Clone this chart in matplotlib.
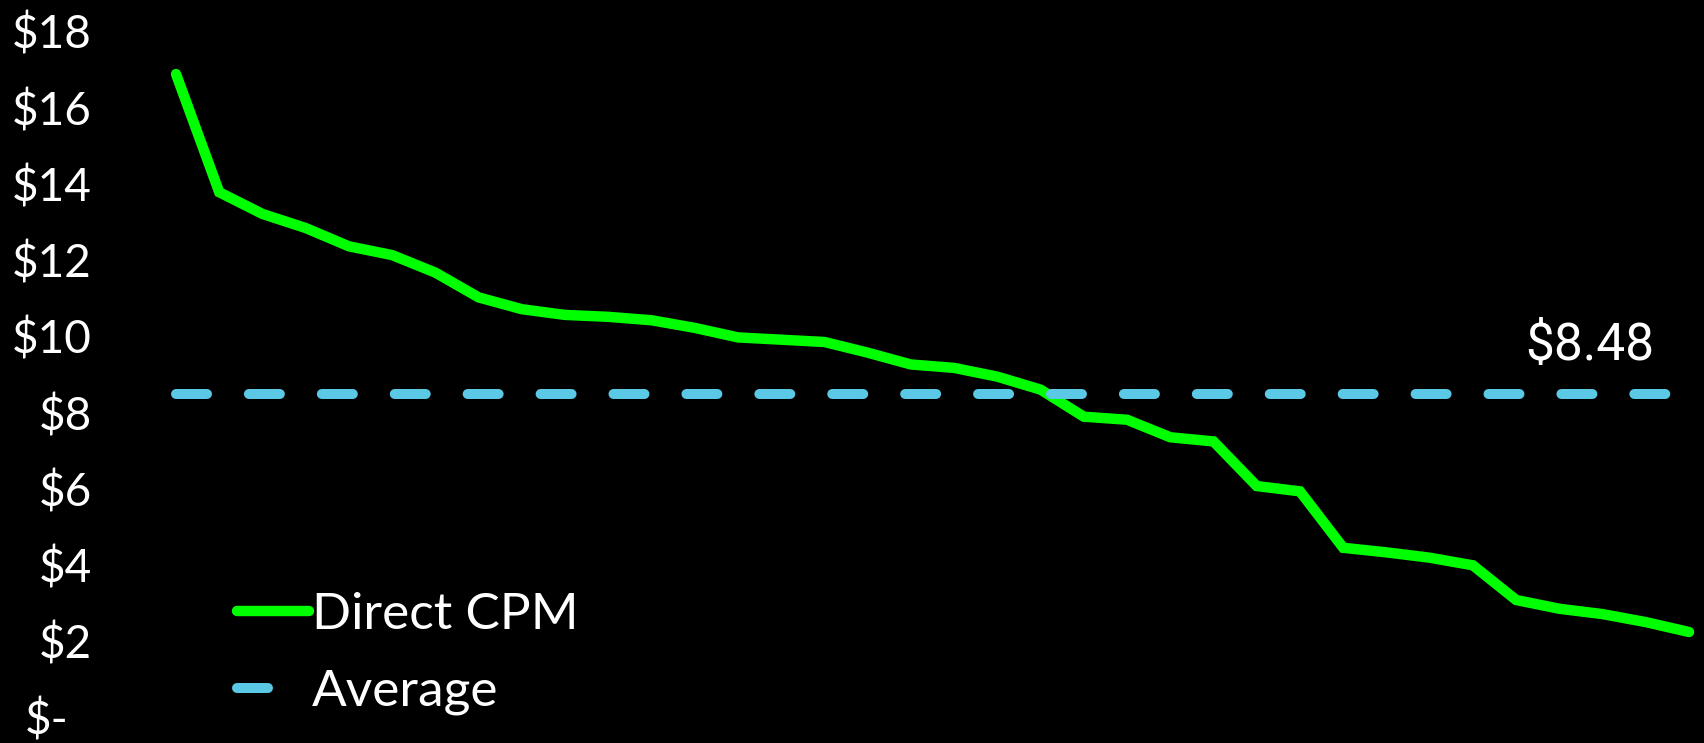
import matplotlib
matplotlib.use("Agg")
import matplotlib.pyplot as plt
from matplotlib.transforms import ScaledTranslation

# sorted direct CPM values, highest to lowest
cpm = [16.87, 13.77, 13.20, 12.83, 12.35, 12.12, 11.66, 11.01, 10.70, 10.55,
       10.50, 10.41, 10.21, 9.96, 9.90, 9.84, 9.56, 9.25, 9.16, 8.93,
       8.59, 7.88, 7.80, 7.34, 7.23, 6.06, 5.92, 4.44, 4.32, 4.18,
       3.98, 3.07, 2.84, 2.70, 2.49, 2.23]
average = 8.48
yticks = [0, 2, 4, 6, 8, 10, 12, 14, 16, 18]
ytick_labels = ["$-", "$2", "$4", "$6", "$8", "$10", "$12", "$14", "$16", "$18"]

GREEN = "#00ff00"
BLUE = "#5bc8e6"

plt.rcParams["lines.scale_dashes"] = False

fig = plt.figure(figsize=(17.04, 7.43), dpi=100, facecolor="black")
W, H = 1704, 743
ax = fig.add_axes([154.4 / W, 26 / H, (1702 - 154.4) / W, (717 - 31) / H])
ax.set_facecolor("black")

x = list(range(len(cpm)))
ax.plot(x, cpm, color=GREEN, lw=7.5, solid_capstyle="round",
        solid_joinstyle="miter", clip_on=False, label="Direct CPM")
ax.plot([x[0], x[-1]], [average, average], color=BLUE, lw=7.2,
        linestyle=(0, (22.3, 30.2)), dash_capstyle="round", clip_on=False,
        label="Average")

ax.annotate(f"${average:.2f}", xy=(34.2, average), xytext=(0, 24),
            textcoords="offset points", ha="right", va="baseline",
            color="white", fontsize=37,
            family=["Liberation Sans Narrow", "Roboto"])

ax.set_xlim(-0.5, 35.3)
ax.set_ylim(0, 18)
ax.set_yticks(yticks)
ax.set_yticklabels(ytick_labels, family="Lato", fontsize=33, color="white")
ax.tick_params(axis="y", length=0, pad=45)
ax.set_xticks([])
for s in ax.spines.values():
    s.set_visible(False)

# accounting-style zero label sits a little left of the digits
zero_lab = ax.yaxis.get_major_ticks()[0].label1
zero_lab.set_transform(zero_lab.get_transform()
                       + ScaledTranslation(-17 / 72, 0, fig.dpi_scale_trans))

leg = ax.legend(loc="upper left", bbox_to_anchor=(237 / W, 1 - 592 / H),
                bbox_transform=fig.transFigure, frameon=False,
                prop={"family": "Lato", "weight": "normal", "size": 37},
                handlelength=1.4, handletextpad=0.05, labelspacing=0.6,
                borderpad=0, borderaxespad=0)
for t in leg.get_texts():
    t.set_color("white")

fig.savefig("out.png", dpi=100, facecolor="black")
